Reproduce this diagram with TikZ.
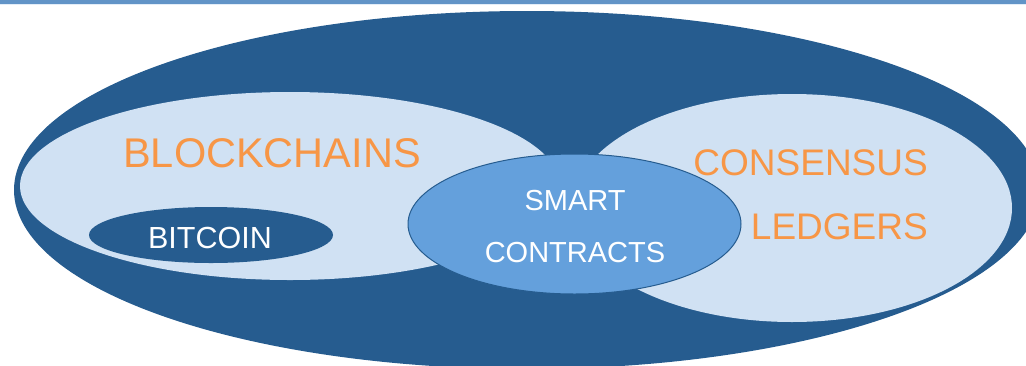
\documentclass[tikz,border=0pt]{standalone}
\usepackage{fontspec}
\setmainfont{Liberation Sans}
\usetikzlibrary{shapes.geometric}
\definecolor{deepblue}{HTML}{265C8F}
\definecolor{paleblue}{HTML}{D0E1F3}
\definecolor{midblue}{HTML}{64A0DC}
\definecolor{barblue}{HTML}{6294C7}
\definecolor{labelorange}{HTML}{F79646}
\tikzset{
  blob/.style={ellipse, inner sep=0pt, outer sep=0pt},
  orangelabel/.style={text=labelorange, inner sep=0pt, font=\fontsize{37}{37}\selectfont},
  whitelabel/.style={text=white, inner sep=0pt, font=\fontsize{29}{29}\selectfont},
}
\begin{document}
\begin{tikzpicture}[x=1pt, y=-1pt]
  \useasboundingbox (0,0) rectangle (1026,365);
  % header rule
  \fill[barblue] (0,0) rectangle (1026,4);
  \fill[paleblue!60] (0,4) rectangle (1026,5);
  \begin{scope}
    \clip (0,5) rectangle (1026,365);
    % outer field
    \node[blob, fill=deepblue, minimum width=1026pt, minimum height=358pt] (outer) at (527,190) {};
  \end{scope}
  % the two overlapping domains
  \node[blob, fill=paleblue, minimum width=540pt, minimum height=188pt] (chains) at (290,186) {};
  \node[blob, fill=paleblue, minimum width=440pt, minimum height=228pt] (ledgers) at (792,208) {};
  % bitcoin inside blockchains
  \node[blob, fill=deepblue, minimum width=244pt, minimum height=56pt] (btc) at (211,235) {};
  % smart contracts in the overlap
  \node[blob, fill=midblue, draw=deepblue, line width=1pt, minimum width=333pt, minimum height=140pt] (smart) at (574.5,224) {};

  % labels
  \node[orangelabel, anchor=base, font=\fontsize{41.5}{41.5}\selectfont] (tchains) at (272,167) {BLOCKCHAINS};
  \node[orangelabel, anchor=base east] (tcons) at (928,175) {CONSENSUS};
  \node[orangelabel, anchor=base east] (tledg) at (928,239) {LEDGERS};
  \node[whitelabel, anchor=base, font=\fontsize{30.5}{30.5}\selectfont] (tbtc) at (210,248) {BITCOIN};
  \node[whitelabel, anchor=base] (tsmart) at (575,210) {SMART};
  \node[whitelabel, anchor=base] (tcontr) at (575,262) {CONTRACTS};
\end{tikzpicture}
\end{document}
